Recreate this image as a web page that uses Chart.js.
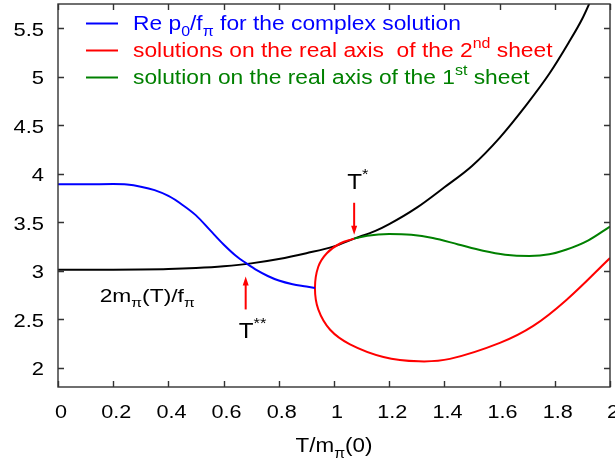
<!DOCTYPE html>
<html>
<head>
<meta charset="utf-8">
<script src="https://cdn.jsdelivr.net/npm/chart.js@4/dist/chart.umd.min.js"></script>
<style>
  body { margin: 0; background: #fff; }
  #wrap { width: 615px; height: 461px; }
</style>
</head>
<body>
<div id="wrap"><canvas id="plot" width="615" height="461"></canvas></div>
<script>
// 2 m_pi(T) / f_pi
const tBlack = [0, 0.2, 0.3, 0.4, 0.5, 0.6, 0.7, 0.8, 0.9, 1.0, 1.073, 1.15, 1.2, 1.3, 1.4, 1.5, 1.6, 1.7, 1.78, 1.85, 1.9, 1.94]
const vBlack = [3.01, 3.01, 3.012, 3.017, 3.028, 3.046, 3.075, 3.12, 3.18, 3.25, 3.33, 3.41, 3.48, 3.65, 3.86, 4.08, 4.37, 4.72, 5.03, 5.35, 5.6, 5.85]

// Re p0/f_pi, complex solution
const tBlue = [0, 0.1, 0.2, 0.25, 0.3, 0.35, 0.4, 0.45, 0.5, 0.55, 0.6, 0.65, 0.68, 0.72, 0.76, 0.8, 0.85, 0.9, 0.931]
const vBlue = [3.89, 3.89, 3.893, 3.888, 3.866, 3.83, 3.77, 3.68, 3.57, 3.42, 3.27, 3.14, 3.08, 3.005, 2.945, 2.898, 2.86, 2.836, 2.82]

// real axis, 2nd sheet (loop, ordered along the curve)
const tRed = [1.073, 1.022, 0.974, 0.943, 0.931, 0.943, 0.986, 1.058, 1.179, 1.307, 1.42, 1.601, 1.722, 1.843, 2.0]
const vRed = [3.33, 3.28, 3.18, 3.04, 2.82, 2.60, 2.39, 2.24, 2.11, 2.065, 2.09, 2.255, 2.43, 2.70, 3.13]

// real axis, 1st sheet
const tGreen = [1.073, 1.12, 1.2, 1.28, 1.358, 1.45, 1.54, 1.62, 1.708, 1.78, 1.84, 1.92, 2.0]
const vGreen = [3.33, 3.36, 3.378, 3.37, 3.337, 3.27, 3.205, 3.165, 3.152, 3.168, 3.215, 3.31, 3.455]

const xTicks = [0, 0.2, 0.4, 0.6, 0.8, 1, 1.2, 1.4, 1.6, 1.8, 2]
const xTickLabels = ['0', '0.2', '0.4', '0.6', '0.8', '1', '1.2', '1.4', '1.6', '1.8', '2']
const yTicks = [2, 2.5, 3, 3.5, 4, 4.5, 5, 5.5]
const yTickLabels = ['2', '2.5', '3', '3.5', '4', '4.5', '5', '5.5']

const FONT = '"Liberation Sans", Arial, Helvetica, sans-serif'

const pts = (xs, ys) => xs.map((x, i) => ({ x: x, y: ys[i] }))

// text with sub/superscripts: parts = [[text, ''|'sub'|'sup'], ...]
// the original figure is stretched sideways, so text gets a horizontal scale sx
function richWidth(ctx, parts, size, sx) {
  let w = 0
  for (const [t, m] of parts) {
    ctx.font = (m ? Math.round(size * 0.7) : size) + 'px ' + FONT
    w += ctx.measureText(t).width
  }
  return w * sx
}
function drawRich(ctx, x, y, parts, size, color, sx, align) {
  if (align === 'center') x -= richWidth(ctx, parts, size, sx) / 2
  if (align === 'right') x -= richWidth(ctx, parts, size, sx)
  ctx.save()
  ctx.translate(x, y)
  ctx.scale(sx, 1)
  ctx.fillStyle = color
  ctx.textBaseline = 'alphabetic'
  ctx.textAlign = 'left'
  let cx = 0
  for (const [t, m] of parts) {
    const s = m ? Math.round(size * 0.7) : size
    ctx.font = s + 'px ' + FONT
    let dy = 0
    if (m === 'sub') dy = size * 0.3
    if (m === 'sup') dy = -size * 0.45
    ctx.fillText(t, cx, dy)
    cx += ctx.measureText(t).width
  }
  ctx.restore()
}

function arrow(ctx, x, y0, y1, color) {
  const dir = y1 > y0 ? 1 : -1
  ctx.strokeStyle = color
  ctx.fillStyle = color
  ctx.lineWidth = 2
  ctx.beginPath()
  ctx.moveTo(x, y0)
  ctx.lineTo(x, y1 - dir * 7)
  ctx.stroke()
  ctx.beginPath()
  ctx.moveTo(x, y1)
  ctx.lineTo(x - 3, y1 - dir * 9)
  ctx.lineTo(x + 3, y1 - dir * 9)
  ctx.closePath()
  ctx.fill()
}

const legendRows = [
  { color: '#0000ff', parts: [['Re p', ''], ['0', 'sub'], ['/f', ''], ['π', 'sub'], [' for the complex solution', '']] },
  { color: '#ff0000', parts: [['solutions on the real axis  of the 2', ''], ['nd', 'sup'], [' sheet', '']] },
  { color: '#008000', parts: [['solution on the real axis of the 1', ''], ['st', 'sup'], [' sheet', '']] }
]

const framePlugin = {
  id: 'frame',
  afterDraw(chart) {
    const ctx = chart.ctx
    const a = chart.chartArea
    const xs = chart.scales.x
    const ys = chart.scales.y
    ctx.save()

    // frame + inward ticks on all sides
    ctx.strokeStyle = '#333'
    ctx.lineWidth = 1.4
    ctx.strokeRect(a.left, a.top, a.right - a.left, a.bottom - a.top)
    ctx.beginPath()
    for (const v of xTicks) {
      const px = Math.round(xs.getPixelForValue(v)) + 0.5
      ctx.moveTo(px, a.bottom); ctx.lineTo(px, a.bottom - 6)
      ctx.moveTo(px, a.top); ctx.lineTo(px, a.top + 6)
    }
    for (const v of yTicks) {
      const py = Math.round(ys.getPixelForValue(v)) + 0.5
      ctx.moveTo(a.left, py); ctx.lineTo(a.left + 6, py)
      ctx.moveTo(a.right, py); ctx.lineTo(a.right - 6, py)
    }
    ctx.stroke()

    // tick labels
    xTicks.forEach((v, i) => drawRich(ctx, xs.getPixelForValue(v) + 3, 418, [[xTickLabels[i], '']], 18, '#000', 1.2, 'center'))
    yTicks.forEach((v, i) => drawRich(ctx, 44, ys.getPixelForValue(v) + 7.5, [[yTickLabels[i], '']], 18, '#000', 1.22, 'right'))

    // x axis title
    const cx = (a.left + a.right) / 2
    drawRich(ctx, cx, 452, [['T/m', ''], ['π', 'sub'], ['(0)', '']], 20, '#000', 1.12, 'center')

    // curve label and markers
    drawRich(ctx, xs.getPixelForValue(0.151), ys.getPixelForValue(2.68),
      [['2m', ''], ['π', 'sub'], ['(T)/f', ''], ['π', 'sub']], 19, '#000', 1.2)
    arrow(ctx, xs.getPixelForValue(1.073), ys.getPixelForValue(3.70), ys.getPixelForValue(3.37), '#ff0000')
    arrow(ctx, xs.getPixelForValue(0.68), ys.getPixelForValue(2.60), ys.getPixelForValue(2.94), '#ff0000')
    drawRich(ctx, xs.getPixelForValue(1.07) - 6, ys.getPixelForValue(3.84), [['T', ''], ['*', 'sup']], 22, '#000', 1.1)
    drawRich(ctx, xs.getPixelForValue(0.68) - 7, ys.getPixelForValue(2.31), [['T', ''], ['**', 'sup']], 22, '#000', 1.1)

    // legend
    const rowY = [23.5, 50.5, 77.5]
    legendRows.forEach((r, i) => {
      const y = rowY[i]
      ctx.strokeStyle = r.color
      ctx.lineWidth = 2
      ctx.beginPath()
      ctx.moveTo(86, y); ctx.lineTo(118, y)
      ctx.stroke()
      drawRich(ctx, 133, y + 6, r.parts, 20, r.color, 1.14)
    })

    ctx.restore()
  }
}

const line = (data, color, mode) => ({
  data: data,
  borderColor: color,
  borderWidth: 2,
  pointRadius: 0,
  showLine: true,
  fill: false,
  tension: 0.4,
  cubicInterpolationMode: mode
})

new Chart(document.getElementById('plot').getContext('2d'), {
  type: 'scatter',
  data: {
    datasets: [
      line(pts(tBlue, vBlue), '#0000ff', 'monotone'),
      line(pts(tRed, vRed), '#ff0000', 'default'),
      line(pts(tGreen, vGreen), '#008000', 'monotone'),
      line(pts(tBlack, vBlack), '#000000', 'monotone')
    ]
  },
  options: {
    responsive: false,
    animation: false,
    devicePixelRatio: 1,
    layout: { padding: { left: 58, right: 5, top: 4, bottom: 74 } },
    plugins: { legend: { display: false }, tooltip: { enabled: false } },
    scales: {
      x: { type: 'linear', min: 0, max: 2, display: false },
      y: { type: 'linear', min: 1.8, max: 5.75, display: false }
    }
  },
  plugins: [framePlugin]
})
</script>
</body>
</html>
